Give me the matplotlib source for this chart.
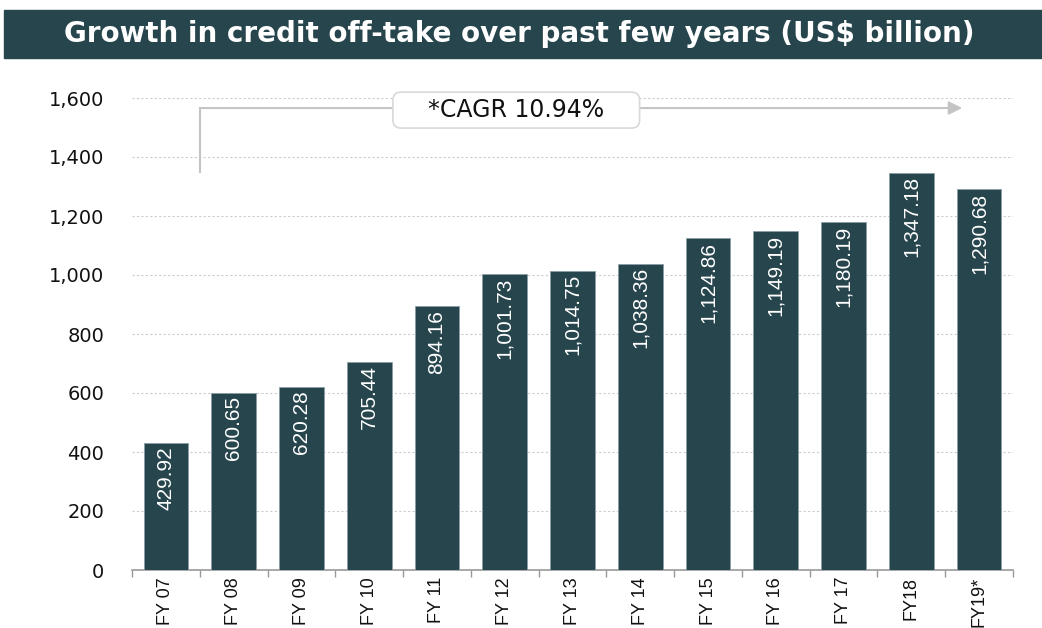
import matplotlib
matplotlib.use('Agg')
import matplotlib.pyplot as plt
from matplotlib.patches import Rectangle, FancyBboxPatch
import numpy as np

years = ['FY 07', 'FY 08', 'FY 09', 'FY 10', 'FY 11', 'FY 12', 'FY 13',
         'FY 14', 'FY 15', 'FY 16', 'FY 17', 'FY18', 'FY19*']
credit = [429.92, 600.65, 620.28, 705.44, 894.16, 1001.73, 1014.75,
          1038.36, 1124.86, 1149.19, 1180.19, 1347.18, 1290.68]
bar_labels = ['429.92', '600.65', '620.28', '705.44', '894.16', '1,001.73', '1,014.75',
              '1,038.36', '1,124.86', '1,149.19', '1,180.19', '1,347.18', '1,290.68']
yticks = [0, 200, 400, 600, 800, 1000, 1200, 1400, 1600]
cagr_text = '*CAGR 10.94%'

dark = '#27454d'
grey = '#c4c4c4'
plt.rcParams['font.family'] = ['DejaVu Sans']

fig = plt.figure(figsize=(10.42, 6.28), dpi=100)
fig.patches.append(Rectangle((4 / 1042, 1 - 58 / 628), 1 - 4 / 1042, 48 / 628,
                             transform=fig.transFigure, color=dark, zorder=0))
fig.text(0.498, 1 - 34 / 628, 'Growth in credit off-take over past few years (US$ billion)',
         color='white', fontsize=20, fontweight='bold', ha='center', va='center')

ax = fig.add_axes([132 / 1042, 58 / 628, 881 / 1042, 472 / 628])
x = np.arange(len(years))
ax.bar(x, credit, width=0.66, color=dark, edgecolor='#8a9ea3', linewidth=0.6, zorder=3)

for xi, v, lab in zip(x, credit, bar_labels):
    ax.text(xi, v - 12, lab, rotation=90, ha='center', va='top', color='white',
            fontsize=15, family='Liberation Sans', zorder=4)

ax.set_xlim(-0.5, len(years) - 0.5)
ax.set_ylim(0, 1600)
ax.set_yticks(yticks)
ax.set_yticklabels([f'{t:,}' for t in yticks], fontsize=14, color='#111111')
ax.yaxis.grid(True, linestyle=(0, (2, 2)), color='#cccccc', linewidth=0.8, zorder=0)
ax.set_xticks(x)
ax.set_xticklabels(years, rotation=90, fontsize=13, color='#111111',
                   family='Liberation Sans')
ax.set_xticks(np.arange(-0.5, len(years)), minor=True)
ax.tick_params(axis='x', which='major', length=0, pad=5)
ax.tick_params(axis='x', which='minor', length=5, color='#999999', width=1)
ax.tick_params(axis='y', length=0, pad=20)
for s in ['top', 'right', 'left']:
    ax.spines[s].set_visible(False)
ax.spines['bottom'].set_color('#999999')
ax.spines['bottom'].set_linewidth(1.2)

# CAGR arrow
ax.plot([0.5, 0.5], [1350, 1566], color=grey, linewidth=1.5, zorder=2, clip_on=False)
ax.annotate('', xy=(11.75, 1566), xytext=(0.5, 1566),
            arrowprops=dict(arrowstyle='-|>', color=grey, linewidth=1.5,
                            mutation_scale=20, shrinkA=0, shrinkB=0),
            annotation_clip=False, zorder=2)
box = FancyBboxPatch((3.35, 1498), 3.64, 122,
                     boxstyle='round,pad=0,rounding_size=0.12', mutation_aspect=229,
                     facecolor='white', edgecolor='#d8d8d8', linewidth=1.2,
                     zorder=5, clip_on=False)
ax.add_patch(box)
ax.text(5.17, 1559, cagr_text, ha='center', va='center', fontsize=17, color='#111111',
        zorder=6)

fig.savefig('out.png', dpi=100)
